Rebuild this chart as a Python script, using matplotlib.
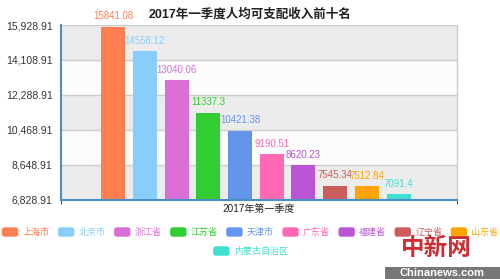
import matplotlib
matplotlib.use("Agg")
import matplotlib.pyplot as plt
from matplotlib.patches import FancyBboxPatch, Rectangle
import numpy as np

plt.rcParams['font.family'] = ['Liberation Sans', 'Noto Sans CJK SC', 'DejaVu Sans']

# data
regions = ['上海市', '北京市', '浙江省', '江苏省', '天津市',
           '广东省', '福建省', '辽宁省', '山东省', '内蒙古自治区']
income = [15841.08, 14558.12, 13040.06, 11337.3, 10421.38,
          9190.51, 8620.23, 7545.34, 7512.84, 7091.4]
colors = ['#ff7f50', '#87cefa', '#da70d6', '#32cd32', '#6495ed',
          '#ff69b4', '#ba55d3', '#cd5c5c', '#ffa500', '#40e0d0']
yticks = [6828.91, 8648.91, 10468.91, 12288.91, 14108.91, 15928.91]
category = '2017年第一季度'
title = '2017年一季度人均可支配收入前十名'

W, H = 500, 279
fig = plt.figure(figsize=(W / 100, H / 100), dpi=100)
fig.patch.set_facecolor('white')

def fx(px):
    return px / W

def fy(py):
    return 1 - py / H

ax = fig.add_axes([fx(61), fy(199.5), fx(457) - fx(61), fy(25) - fy(199.5)])
ax.set_facecolor('white')

# alternating bands + grid
for i in range(len(yticks) - 1):
    c = '#ececec' if i % 2 == 0 else '#fcfcfc'
    ax.axhspan(yticks[i], yticks[i + 1], color=c, lw=0, zorder=0)
for t in yticks[1:]:
    ax.axhline(t, color='#cccccc', lw=1, zorder=1)

# bars: one category, ten series
step = 0.0801
width = 0.0606
n = len(income)
for i, (v, c) in enumerate(zip(income, colors)):
    x = (i - (n - 1) / 2) * step - 0.008
    ax.bar(x, v - yticks[0], width, bottom=yticks[0], color=c, zorder=2)
    ax.annotate(str(v), (x, v), xytext=(0, 4), textcoords='offset points',
                ha='center', va='bottom', fontsize=7, color=c, zorder=3)

ax.set_xlim(-0.5, 0.5)
ax.set_ylim(yticks[0], yticks[-1])
ax.set_yticks(yticks)
ax.set_yticklabels(['{:,.2f}'.format(t) for t in yticks], fontsize=7.5, color='#333333')
ax.set_xticks([0])
ax.set_xticklabels([category], fontsize=7.2, color='#222222')
ax.set_xticks([-0.5, 0.5], minor=True)
ax.tick_params(axis='x', which='major', length=0, pad=3)
ax.tick_params(axis='x', which='minor', length=3, color='#333333')
ax.tick_params(axis='y', length=0, pad=6)

for s in ['left', 'bottom']:
    ax.spines[s].set_color('#4a8fc4')
    ax.spines[s].set_linewidth(1.5)
ax.spines['right'].set_color('#cccccc')
ax.spines['top'].set_visible(False)
ax.spines['right'].set_linewidth(1)

fig.text(0.5, fy(14), title, ha='center', va='center', fontsize=9,
         fontweight='bold', color='#222222')

# legend, rows centred like the original
char_px = 8.7
sw, sh, gap, item_gap = 15, 8, 5, 10
rows = [list(range(9)), [9]]
row_y = [232, 251]
for row, yc in zip(rows, row_y):
    widths = [sw + gap + len(regions[k]) * char_px for k in row]
    total = sum(widths) + item_gap * (len(row) - 1)
    x0 = (W - total) / 2
    for k, w in zip(row, widths):
        patch = FancyBboxPatch((fx(x0), fy(yc + sh / 2)), fx(sw), sh / H,
                               boxstyle='round,pad=0,rounding_size=0.004',
                               transform=fig.transFigure, color=colors[k],
                               mutation_aspect=W / H)
        fig.add_artist(patch)
        fig.text(fx(x0 + sw + gap), fy(yc), regions[k], ha='left', va='center',
                 fontsize=6.5, color=colors[k])
        x0 += w + item_gap

# watermark
fig.text(fx(436), fy(248), '中新网', ha='center', va='center', fontsize=17,
         fontweight='bold', color='#c8161d', alpha=0.9,
         family=['Noto Sans CJK SC'])
fig.add_artist(Rectangle((fx(385), 0), fx(115), 12 / H, transform=fig.transFigure,
                         color='#555555', alpha=0.8, lw=0))
fig.text(fx(442), fy(273), 'Chinanews.com', ha='center', va='center', fontsize=8,
         fontweight='bold', color='white')

fig.savefig('out.png', dpi=100)
